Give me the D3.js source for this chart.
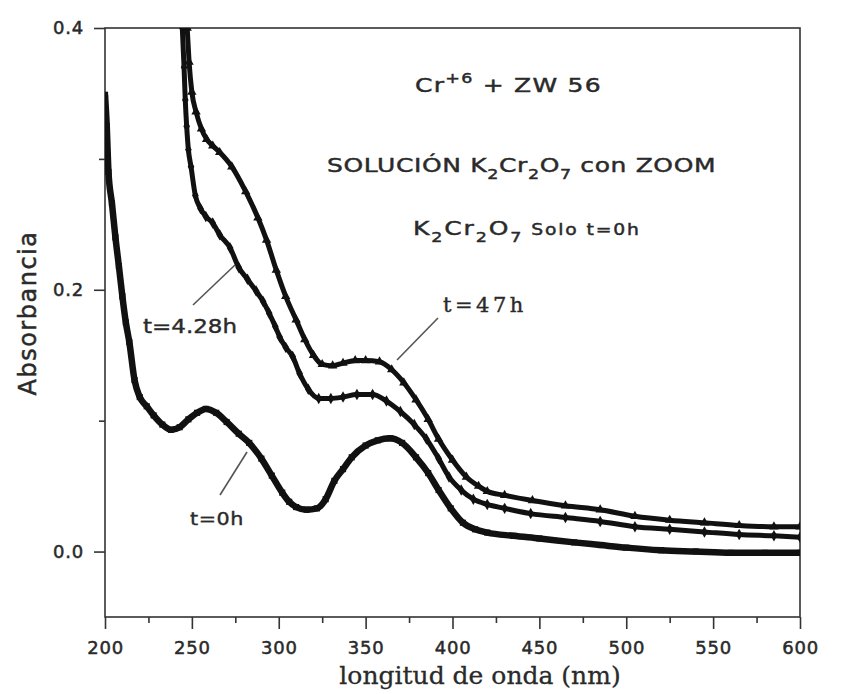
<!DOCTYPE html>
<html><head><meta charset="utf-8">
<script src="https://cdn.jsdelivr.net/npm/d3@7"></script>
<style>body{margin:0;background:#fff}svg{display:block}</style>
</head><body><svg id="c" width="847" height="694"></svg>
<script>
// ---- data ----
const xMajorTicks = [200,250,300,350,400,450,500,550,600];
const xMinorTicks = [225,275,325,375,425,475,525,575];
const yMajorTicks = [0.0,0.2,0.4];
const yMinorTicks = [0.1,0.3];

const wl0h  = [200,201,202,204,206,208,210,212,214,217,220,224,228,233,238,243,248,253,258,264,270,277,283,290,296,302,306,310,316,322,327,332,337,342,350,357,364,371,379,386,392,399,406,413,420,435,450,470,485,500,520,540,560,580,600];
const abs0h = [0.349,0.325,0.29,0.266,0.24,0.218,0.195,0.175,0.16,0.131,0.118,0.111,0.104,0.097,0.093,0.095,0.101,0.106,0.109,0.106,0.099,0.09,0.083,0.071,0.058,0.045,0.038,0.034,0.032,0.033,0.04,0.054,0.063,0.072,0.081,0.085,0.0865,0.083,0.072,0.06,0.047,0.033,0.022,0.017,0.0145,0.012,0.010,0.007,0.005,0.003,0.001,0.0,-0.001,-0.001,-0.001];

const wl428  = [244.5,245.5,246.2,247,248,249.5,252,255,258,262,266,272,277,282,287,291,294.5,298,300.5,304,308,312,317,323,330,337,345,354,362,370,378,385,392,398,405,412,420,430,445,465,485,505,525,545,565,585,600];
const abs428 = [0.40,0.37,0.345,0.325,0.307,0.294,0.272,0.262,0.256,0.251,0.242,0.232,0.217,0.208,0.199,0.191,0.182,0.172,0.164,0.156,0.149,0.136,0.124,0.117,0.117,0.118,0.12,0.12,0.115,0.107,0.097,0.086,0.071,0.057,0.047,0.040,0.036,0.033,0.029,0.026,0.023,0.019,0.017,0.015,0.013,0.012,0.011];

const wl47  = [247.3,248.4,250,252.4,255.5,258.5,262,266,273,281,288,293,298.6,304,310,315,320,325,331,337,344,350,358,365,372,379,386,392,400,408,415,420,430,446,465,485,505,525,545,565,585,600];
const abs47 = [0.40,0.374,0.351,0.336,0.323,0.315,0.310,0.305,0.294,0.275,0.255,0.238,0.215,0.195,0.177,0.162,0.150,0.143,0.142,0.144,0.146,0.146,0.145,0.139,0.129,0.116,0.101,0.086,0.07,0.057,0.050,0.046,0.043,0.039,0.035,0.032,0.027,0.024,0.022,0.020,0.019,0.019];

const seriesNames = ["t=0h","t=4.28h","t=47h"];

// ---- layout ----
const svg = d3.select("#c");
const L = 105, R = 800, T = 28, B = 617;
const x = d3.scaleLinear().domain([200,600]).range([L,R]);
const y = d3.scaleLinear().domain([-0.05,0.4]).range([B,T]);
const axisColor = "#333";
const sans = "'DejaVu Sans', sans-serif";
const serif = "'DejaVu Serif', serif";
const ink = "#2a2a2a";

svg.append("rect").attr("width",847).attr("height",694).attr("fill","#fff");

svg.append("defs").append("clipPath").attr("id","clip")
  .append("rect").attr("x",L).attr("y",T).attr("width",R-L).attr("height",B-T);

// frame
svg.append("rect").attr("x",L).attr("y",T).attr("width",R-L).attr("height",B-T)
  .attr("fill","none").attr("stroke",axisColor).attr("stroke-width",1.6);

// x axis
const gx = svg.append("g").attr("transform",`translate(0,${B})`);
gx.call(d3.axisBottom(x).tickValues(xMajorTicks).tickSize(12).tickPadding(12).tickFormat(d3.format("d")));
const gxm = svg.append("g").attr("transform",`translate(0,${B})`);
gxm.call(d3.axisBottom(x).tickValues(xMinorTicks).tickSize(6).tickFormat(""));
// y axis
const gy = svg.append("g").attr("transform",`translate(${L},0)`);
gy.call(d3.axisLeft(y).tickValues(yMajorTicks).tickSize(11).tickPadding(10).tickFormat(d3.format(".1f")));
const gym = svg.append("g").attr("transform",`translate(${L},0)`);
gym.call(d3.axisLeft(y).tickValues(yMinorTicks).tickSize(6).tickFormat(""));

svg.selectAll(".domain").remove();
svg.selectAll(".tick line").attr("stroke",axisColor).attr("stroke-width",1.6);
svg.selectAll(".tick text").attr("fill",ink).attr("stroke",ink).attr("stroke-width",0.5)
  .style("font-family",sans).style("font-size","18px").style("letter-spacing","0.8px");

// axis titles
svg.append("text").attr("transform","translate(36,313) rotate(-90)")
  .attr("text-anchor","middle").style("font-family",sans).style("font-size","24px")
  .style("letter-spacing","1.5px").attr("fill",ink).attr("stroke",ink).attr("stroke-width",0.5)
  .text("Absorbancia");
svg.append("text").attr("x",480).attr("y",684).attr("text-anchor","middle")
  .style("font-family",serif).style("font-size","25px").attr("fill",ink)
  .attr("stroke",ink).attr("stroke-width",0.3)
  .text("longitud de onda (nm)");

// curves
const line = d3.line().x(d=>x(d[0])).y(d=>y(d[1])).curve(d3.curveMonotoneX);
const series = [
  {name:seriesNames[0], pts:d3.zip(wl0h,abs0h), w:6.5, sym:d3.symbolSquare},
  {name:seriesNames[1], pts:d3.zip(wl428,abs428), w:5, sym:d3.symbolDiamond},
  {name:seriesNames[2], pts:d3.zip(wl47,abs47), w:5, sym:d3.symbolTriangle}
];
const gc = svg.append("g").attr("clip-path","url(#clip)");
series.forEach(s=>{
  gc.append("path").datum(s.pts).attr("d",line).attr("fill","none")
    .attr("stroke","#111").attr("stroke-width",s.w).attr("stroke-linejoin","round");
  gc.selectAll(null).data(s.pts).enter().append("path")
    .attr("transform",d=>`translate(${x(d[0])},${y(d[1])})`)
    .attr("d",d3.symbol().type(s.sym).size(38)).attr("fill","#111");
});

// annotations (wide "plotter" lettering: horizontally stretched text)
function chem(sel, parts, big, small){
  parts.forEach(p=>{
    const t = sel.append("tspan").text(p[0]);
    if(p[1]==="sub"){ t.attr("dy",7).style("font-size",small+"px"); }
    else if(p[1]==="sup"){ t.attr("dy",-9).style("font-size",small+"px"); }
    else if(p[1]==="back"){ t.attr("dy",p[2]).style("font-size",(p[3]||big)+"px"); }
    else t.style("font-size",big+"px");
  });
}
function wide(px, py, sx, ls){
  return svg.append("g").attr("transform",`translate(${px},${py}) scale(${sx},1)`)
    .append("text").style("font-family",sans).style("letter-spacing",ls+"px")
    .attr("fill",ink).attr("stroke",ink).attr("stroke-width",0.45);
}
chem(wide(415,92,1.25,1),[["Cr"],["+6","sup"],[" + ZW 56","back",9]],20,14);
chem(wide(327,172,1.25,0.5),[["SOLUCIÓN K"],["2","sub"],["Cr","back",-7],["2","sub"],["O","back",-7],["7","sub"],[" con ZOOM","back",-7]],20,14);
chem(wide(413,235,1.25,1.5),[["K"],["2","sub"],["Cr","back",-7],["2","sub"],["O","back",-7],["7","sub"],[" Solo t=0h","back",-7,15]],20,14);

// series labels with pointer lines
const lbl = [
  {txt:seriesNames[2], x:443, y:312, font:serif, size:21, ls:3.5, sx:1, x1:397,y1:360,x2:438,y2:318},
  {txt:seriesNames[1], x:143, y:333, font:sans, size:20, ls:0, sx:1.15, x1:193,y1:305,x2:235,y2:265},
  {txt:seriesNames[0], x:190, y:525, font:sans, size:18, ls:0.5, sx:1.15, x1:220,y1:495,x2:247,y2:452}
];
lbl.forEach(l=>{
  svg.append("line").attr("x1",l.x1).attr("y1",l.y1).attr("x2",l.x2).attr("y2",l.y2)
    .attr("stroke","#555").attr("stroke-width",1.6);
  svg.append("g").attr("transform",`translate(${l.x},${l.y}) scale(${l.sx},1)`)
    .append("text").style("font-family",l.font)
    .style("font-size",l.size+"px").style("letter-spacing",l.ls+"px")
    .attr("fill",ink).attr("stroke",ink).attr("stroke-width",0.4).text(l.txt);
});
</script></body></html>
